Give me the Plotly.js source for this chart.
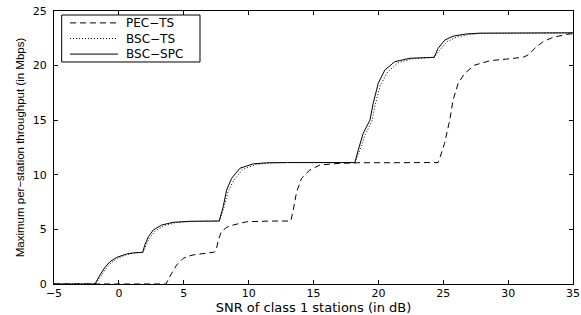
<!DOCTYPE html>
<html>
<head>
<meta charset="utf-8">
<script src="https://cdn.plot.ly/plotly-3.0.1.min.js"></script>
<style>html,body{margin:0;padding:0;background:#fff;}</style>
</head>
<body>
<div id="chart" style="width:581px;height:315px;"></div>
<script>
// SNR of class 1 stations (dB) and throughput (Mbps)
const pecX = [-5, 3.63, 4.05, 4.45, 4.96, 5.35, 5.73, 6.76, 7.35, 7.5, 7.66, 7.9, 8.3, 8.8, 9.85, 11.5, 13.25, 13.44, 13.7, 14.08, 14.72, 15.49, 17.03, 18.5, 24.6, 24.75, 25.1, 25.5, 25.76, 26.15, 26.66, 27.43, 28.6, 29.88, 31.16, 31.54, 32.06, 32.7, 33.47, 34.5, 35];
const pecY = [0, 0, 0.95, 1.74, 2.35, 2.55, 2.66, 2.87, 2.92, 3.1, 4.0, 4.8, 5.19, 5.4, 5.7, 5.76, 5.77, 6.78, 8.45, 9.68, 10.44, 10.9, 11.05, 11.1, 11.12, 11.6, 12.88, 15.0, 16.85, 18.38, 19.3, 20.05, 20.45, 20.6, 20.76, 20.97, 21.58, 22.2, 22.59, 22.86, 22.92];

const bscTsX = [-5, -1.8, -1.4, -1.0, -0.6, -0.1, 0.6, 1.2, 1.85, 2.05, 2.35, 2.8, 3.5, 4.4, 5.6, 7.74, 8.1, 8.4, 8.85, 9.55, 10.6, 11.6, 13, 18.19, 18.55, 18.95, 19.5, 19.75, 20.15, 20.7, 21.5, 22.6, 24.3, 24.7, 25.3, 26.0, 27.0, 28.0, 35];
const bscTsY = [0, 0, 0.7, 1.4, 1.95, 2.35, 2.7, 2.84, 2.9, 3.45, 4.2, 4.85, 5.35, 5.62, 5.73, 5.77, 7.0, 8.4, 9.5, 10.5, 10.95, 11.08, 11.12, 11.12, 12.2, 13.6, 14.9, 16.4, 18.2, 19.4, 20.25, 20.62, 20.76, 21.4, 22.2, 22.6, 22.85, 22.95, 23.0];

const bscSpcX = [-5, -1.84, -1.46, -1.07, -0.69, -0.17, 0.6, 1.2, 1.83, 2.0, 2.27, 2.65, 3.3, 4.19, 5.48, 7.74, 8.04, 8.3, 8.69, 9.33, 10.35, 11.4, 13, 18.19, 18.45, 18.83, 19.35, 19.6, 19.99, 20.5, 21.27, 22.43, 24.3, 24.6, 25.12, 25.76, 26.8, 27.8, 35];
const bscSpcY = [0, 0, 0.82, 1.53, 2.04, 2.44, 2.75, 2.86, 2.9, 3.57, 4.33, 4.94, 5.4, 5.65, 5.74, 5.77, 7.08, 8.6, 9.68, 10.6, 11.0, 11.1, 11.12, 11.12, 12.27, 13.8, 15.0, 16.55, 18.38, 19.6, 20.36, 20.67, 20.76, 21.58, 22.34, 22.7, 22.9, 22.97, 23.0];

const seriesNames = ["PEC\u2212TS", "BSC\u2212TS", "BSC\u2212SPC"];
const xTicks = [-5, 0, 5, 10, 15, 20, 25, 30, 35];
const yTicks = [0, 5, 10, 15, 20, 25];

const FONT = "DejaVu Sans, Liberation Sans, Arial, sans-serif";
const dashes = ["6px,4px", "1px,2px", "solid"];

const traces = [
  {x: pecX, y: pecY, name: seriesNames[0], mode: "lines",
   line: {color: "#000", width: 1, dash: dashes[0]}},
  {x: bscTsX, y: bscTsY, name: seriesNames[1], mode: "lines",
   line: {color: "#000", width: 1, dash: dashes[1]}},
  {x: bscSpcX, y: bscSpcY, name: seriesNames[2], mode: "lines",
   line: {color: "#000", width: 1, dash: dashes[2]}}
];

// Boxed legend drawn in paper coordinates (MATLAB-style compact rows)
const legBox = {x0: 0.0148, x1: 0.2813, y0: 0.8132, y1: 0.9853};
const legRows = [0.9564, 0.8993, 0.8421];
const shapes = [{type: "rect", xref: "paper", yref: "paper",
  x0: legBox.x0, x1: legBox.x1, y0: legBox.y0, y1: legBox.y1,
  line: {color: "#000", width: 1}, fillcolor: "#fff", layer: "above"}];
seriesNames.forEach((nm, i) => {
  shapes.push({type: "line", xref: "paper", yref: "paper",
    x0: 0.0308, x1: 0.1233, y0: legRows[i], y1: legRows[i],
    line: {color: "#000", width: 1, dash: dashes[i]}, layer: "above"});
});
const annotations = [{xref: "paper", yref: "paper", x: 0.1368, y: legRows[1],
  xanchor: "left", yanchor: "middle", align: "left", showarrow: false,
  borderpad: 0, text: seriesNames.join("<br>"),
  font: {family: FONT, size: 12, color: "#000"}}];

const axisCommon = {
  ticks: "inside", ticklen: 4, tickwidth: 1, tickcolor: "#000",
  mirror: "ticks", showline: true, linecolor: "#000", linewidth: 1,
  showgrid: false, zeroline: false, automargin: false,
  tickfont: {family: FONT, size: 11, color: "#000"}
};

const layout = {
  width: 581, height: 315,
  margin: {l: 54, r: 8, t: 11, b: 31},
  paper_bgcolor: "#fff", plot_bgcolor: "#fff",
  showlegend: false,
  shapes: shapes,
  annotations: annotations,
  xaxis: Object.assign({}, axisCommon, {
    range: [-5, 35], tickvals: xTicks, ticklabelstandoff: -1,
    title: {text: "SNR of class 1 stations (in dB)", standoff: 3,
            font: {family: FONT, size: 13, color: "#000"}}
  }),
  yaxis: Object.assign({}, axisCommon, {
    range: [0, 25], tickvals: yTicks, ticklabelstandoff: 4,
    title: {text: "Maximum per\u2212station throughput (in Mbps)", standoff: 5,
            font: {family: "Liberation Sans, Arial, sans-serif", size: 11.5, color: "#000"}}
  })
};

Plotly.newPlot("chart", traces, layout, {staticPlot: true, displayModeBar: false});
</script>
</body>
</html>
